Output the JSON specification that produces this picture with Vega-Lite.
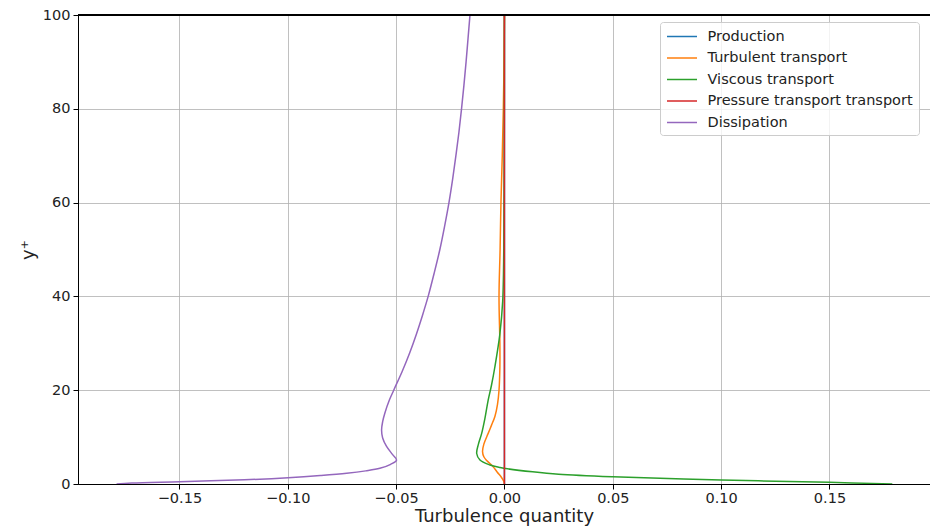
{
  "$schema": "https://vega.github.io/schema/vega-lite/v6.json",
  "autosize": "none",
  "padding": {"left": 78, "top": 15, "right": 0, "bottom": 44},
  "width": 852,
  "height": 469,
  "background": "white",
  "config": {
    "font": "DejaVu Sans",
    "view": {"stroke": "black", "strokeWidth": 1},
    "axis": {
      "domainColor": "black", "domainWidth": 1,
      "tickColor": "black", "tickSize": 5, "tickWidth": 1,
      "gridColor": "#b0b0b0", "gridWidth": 0.8,
      "labelFont": "DejaVu Sans", "labelFontSize": 14.5, "labelColor": "#222",
      "titleFont": "DejaVu Sans", "titleFontSize": 18, "titleFontWeight": "normal", "titleColor": "#222"
    }
  },
  "data": {"values": [
    {"series": "Production", "x": 0, "y": 0},
    {"series": "Production", "x": 0, "y": 100},

    {"series": "Turbulent transport", "x": 0, "y": 0},
    {"series": "Turbulent transport", "x": -0.0002, "y": 0.5},
    {"series": "Turbulent transport", "x": -0.0015, "y": 1.5},
    {"series": "Turbulent transport", "x": -0.0033, "y": 2.5},
    {"series": "Turbulent transport", "x": -0.0052, "y": 3.7},
    {"series": "Turbulent transport", "x": -0.0082, "y": 5.0},
    {"series": "Turbulent transport", "x": -0.0095, "y": 5.8},
    {"series": "Turbulent transport", "x": -0.0101, "y": 6.9},
    {"series": "Turbulent transport", "x": -0.0095, "y": 8.5},
    {"series": "Turbulent transport", "x": -0.0075, "y": 10.8},
    {"series": "Turbulent transport", "x": -0.006, "y": 12.5},
    {"series": "Turbulent transport", "x": -0.0044, "y": 14.4},
    {"series": "Turbulent transport", "x": -0.0032, "y": 17},
    {"series": "Turbulent transport", "x": -0.0025, "y": 20},
    {"series": "Turbulent transport", "x": -0.0021, "y": 25},
    {"series": "Turbulent transport", "x": -0.0021, "y": 30},
    {"series": "Turbulent transport", "x": -0.0025, "y": 40},
    {"series": "Turbulent transport", "x": -0.002, "y": 50},
    {"series": "Turbulent transport", "x": -0.0016, "y": 60},
    {"series": "Turbulent transport", "x": -0.001, "y": 70},
    {"series": "Turbulent transport", "x": -0.0005, "y": 80},
    {"series": "Turbulent transport", "x": -0.0002, "y": 90},
    {"series": "Turbulent transport", "x": 0, "y": 100},

    {"series": "Viscous transport", "x": 0.179, "y": 0},
    {"series": "Viscous transport", "x": 0.15, "y": 0.36},
    {"series": "Viscous transport", "x": 0.1, "y": 0.85},
    {"series": "Viscous transport", "x": 0.05, "y": 1.56},
    {"series": "Viscous transport", "x": 0.025, "y": 2.1},
    {"series": "Viscous transport", "x": 0.013, "y": 2.6},
    {"series": "Viscous transport", "x": 0.0005, "y": 3.3},
    {"series": "Viscous transport", "x": -0.002, "y": 3.5},
    {"series": "Viscous transport", "x": -0.0067, "y": 4.05},
    {"series": "Viscous transport", "x": -0.0113, "y": 5.1},
    {"series": "Viscous transport", "x": -0.0128, "y": 6.5},
    {"series": "Viscous transport", "x": -0.012, "y": 8.5},
    {"series": "Viscous transport", "x": -0.0105, "y": 10.8},
    {"series": "Viscous transport", "x": -0.009, "y": 14},
    {"series": "Viscous transport", "x": -0.0075, "y": 17.9},
    {"series": "Viscous transport", "x": -0.006, "y": 21},
    {"series": "Viscous transport", "x": -0.0044, "y": 25},
    {"series": "Viscous transport", "x": -0.0021, "y": 32},
    {"series": "Viscous transport", "x": -0.0008, "y": 39},
    {"series": "Viscous transport", "x": -0.0003, "y": 50},
    {"series": "Viscous transport", "x": -0.0001, "y": 70},
    {"series": "Viscous transport", "x": 0, "y": 100},

    {"series": "Pressure transport transport", "x": 0, "y": 0},
    {"series": "Pressure transport transport", "x": 0, "y": 100},

    {"series": "Dissipation", "x": -0.179, "y": 0},
    {"series": "Dissipation", "x": -0.172, "y": 0.2},
    {"series": "Dissipation", "x": -0.1498, "y": 0.49},
    {"series": "Dissipation", "x": -0.12, "y": 0.9},
    {"series": "Dissipation", "x": -0.0998, "y": 1.34},
    {"series": "Dissipation", "x": -0.085, "y": 1.8},
    {"series": "Dissipation", "x": -0.0728, "y": 2.28},
    {"series": "Dissipation", "x": -0.064, "y": 2.8},
    {"series": "Dissipation", "x": -0.0575, "y": 3.35},
    {"series": "Dissipation", "x": -0.0525, "y": 4.2},
    {"series": "Dissipation", "x": -0.0498, "y": 5.1},
    {"series": "Dissipation", "x": -0.0515, "y": 6.2},
    {"series": "Dissipation", "x": -0.0544, "y": 8.0},
    {"series": "Dissipation", "x": -0.0562, "y": 9.8},
    {"series": "Dissipation", "x": -0.0567, "y": 11.5},
    {"series": "Dissipation", "x": -0.0562, "y": 13.3},
    {"series": "Dissipation", "x": -0.0552, "y": 15.1},
    {"series": "Dissipation", "x": -0.0531, "y": 17.9},
    {"series": "Dissipation", "x": -0.0511, "y": 20},
    {"series": "Dissipation", "x": -0.0472, "y": 24},
    {"series": "Dissipation", "x": -0.0437, "y": 28},
    {"series": "Dissipation", "x": -0.0406, "y": 32},
    {"series": "Dissipation", "x": -0.0378, "y": 36},
    {"series": "Dissipation", "x": -0.0352, "y": 40},
    {"series": "Dissipation", "x": -0.0324, "y": 45},
    {"series": "Dissipation", "x": -0.0298, "y": 50},
    {"series": "Dissipation", "x": -0.0276, "y": 55},
    {"series": "Dissipation", "x": -0.0256, "y": 60},
    {"series": "Dissipation", "x": -0.0239, "y": 65},
    {"series": "Dissipation", "x": -0.0224, "y": 70},
    {"series": "Dissipation", "x": -0.021, "y": 75},
    {"series": "Dissipation", "x": -0.0198, "y": 80},
    {"series": "Dissipation", "x": -0.0187, "y": 85},
    {"series": "Dissipation", "x": -0.0177, "y": 90},
    {"series": "Dissipation", "x": -0.0168, "y": 95},
    {"series": "Dissipation", "x": -0.0159, "y": 100}
  ]},
  "layer": [
    {
      "mark": {"type": "line", "strokeWidth": 1.5, "clip": true, "interpolate": "catmull-rom"},
      "encoding": {
        "x": {"field": "x", "type": "quantitative",
          "scale": {"domain": [-0.1968, 0.1964], "nice": false, "zero": false},
          "axis": {"title": "Turbulence quantity", "values": [-0.15, -0.1, -0.05, 0, 0.05, 0.1, 0.15], "format": ".2f", "titlePadding": 3, "labelPadding": 2}},
        "y": {"field": "y", "type": "quantitative",
          "scale": {"domain": [0, 100], "nice": false},
          "axis": {"title": "y⁺", "values": [0, 20, 40, 60, 80, 100], "titlePadding": 5, "labelPadding": 3}},
        "color": {"field": "series", "type": "nominal",
          "scale": {"domain": ["Production", "Turbulent transport", "Viscous transport", "Pressure transport transport", "Dissipation"],
                    "range": ["#1f77b4", "#ff7f0e", "#2ca02c", "#d62728", "#9467bd"]},
          "legend": {"title": null, "orient": "none", "legendX": 582, "legendY": 7,
            "symbolType": "M-2,0H2", "symbolSize": 225, "symbolStrokeWidth": 1.5, "symbolOffset": 7.5,
            "labelFontSize": 14.5, "labelFont": "DejaVu Sans", "labelColor": "#222", "labelOffset": 17,
            "rowPadding": 6.5, "padding": 6, "strokeColor": "#cccccc", "fillColor": "rgba(255,255,255,0.8)", "cornerRadius": 3, "labelLimit": 300}},
        "order": {"field": "y", "type": "quantitative"}
      }
    },
    {
      "mark": {"type": "rule", "color": "black", "strokeWidth": 1},
      "encoding": {"y": {"datum": 100}}
    }
  ]
}
